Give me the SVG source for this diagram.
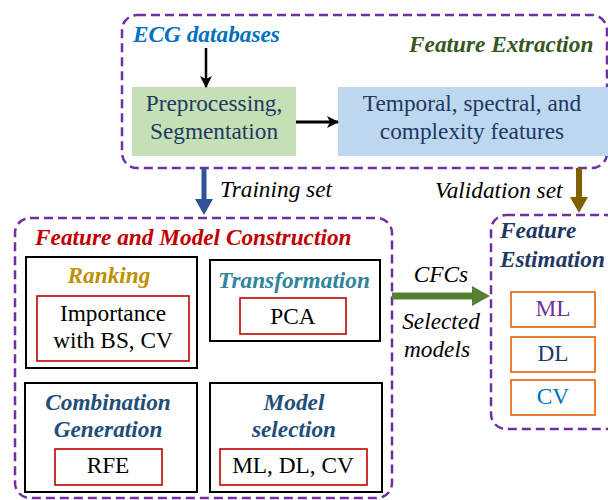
<svg xmlns="http://www.w3.org/2000/svg" width="608" height="500" viewBox="0 0 608 500">
<style>
.dash{fill:none;stroke:#7030a0;stroke-width:2.5;stroke-dasharray:9 5}
text{font-family:'Liberation Serif','Times New Roman',serif;font-size:23.3px}
.bi{font-weight:bold;font-style:italic}
.i{font-style:italic}
.blk{fill:none;stroke:#000;stroke-width:2}
.red{fill:#fff;stroke:#c00000;stroke-width:1.6}
.org{fill:#fff;stroke:#ed7d31;stroke-width:2}
.m{text-anchor:middle}
</style>
<defs>
<marker id="ah" markerWidth="12" markerHeight="12" refX="11" refY="6" orient="auto" markerUnits="userSpaceOnUse">
<path d="M0,0 L12,6 L0,12 L3,6 Z" fill="#000"/>
</marker>
</defs>
<rect width="608" height="500" fill="#fff"/>

<g id="feature-extraction">
<rect class="dash" x="122" y="15" width="485" height="153" rx="15"/>
<text class="bi" x="133" y="42" fill="#0070c0">ECG databases</text>
<text class="bi" x="409" y="52" fill="#375623">Feature Extraction</text>
</g>
<g id="preprocessing">
<rect x="132" y="87" width="164" height="69" fill="#c5e0b4"/>
<text class="m" x="214" y="111" fill="#1f3864">Preprocessing,</text>
<text class="m" x="214" y="139" fill="#1f3864">Segmentation</text>
</g>
<g id="features">
<rect x="338" y="87" width="270" height="69" fill="#bdd7ee"/>
<text class="m" x="472" y="111" fill="#1f3864">Temporal, spectral, and</text>
<text class="m" x="472" y="139" fill="#1f3864">complexity features</text>
</g>

<g id="construction">
<rect class="dash" x="15" y="218" width="377" height="280" rx="15"/>
<text class="bi" x="35" y="245" fill="#c00000">Feature and Model Construction</text>
</g>
<g id="ranking">
<rect class="blk" x="26" y="257" width="171" height="111"/>
<text class="bi m" x="109" y="283" fill="#bf9000">Ranking</text>
<rect class="red" x="37" y="296" width="152" height="65"/>
<text class="m" x="113" y="321">Importance</text>
<text class="m" x="113" y="348">with BS, CV</text>
</g>
<g id="transformation">
<rect class="blk" x="210" y="260" width="170" height="81"/>
<text class="bi m" x="294" y="288" fill="#31849b">Transformation</text>
<rect class="red" x="240" y="298" width="106" height="36"/>
<text class="m" x="293" y="324">PCA</text>
</g>
<g id="combination">
<rect class="blk" x="25" y="383" width="172" height="109"/>
<text class="bi m" x="108" y="410" fill="#1f4e79">Combination</text>
<text class="bi m" x="108" y="437" fill="#1f4e79">Generation</text>
<rect class="red" x="55" y="449" width="107" height="36"/>
<text class="m" x="108" y="473">RFE</text>
</g>
<g id="model-selection">
<rect class="blk" x="210" y="383" width="172" height="109"/>
<text class="bi m" x="294" y="410" fill="#1f4e79">Model</text>
<text class="bi m" x="294" y="437" fill="#1f4e79">selection</text>
<rect class="red" x="220" y="449" width="147" height="36"/>
<text class="m" x="293" y="473">ML, DL, CV</text>
</g>

<g id="estimation">
<rect class="dash" x="491" y="215" width="130" height="214" rx="15"/>
<text class="bi" x="500" y="238" fill="#1f3864">Feature</text>
<text class="bi" x="500" y="267" fill="#1f3864">Estimation</text>
</g>
<g id="ml">
<rect class="org" x="511" y="292" width="84" height="35"/>
<text class="m" x="553" y="316" fill="#7030a0">ML</text>
</g>
<g id="dl">
<rect class="org" x="511" y="337" width="84" height="35"/>
<text class="m" x="553" y="361" fill="#1f3864">DL</text>
</g>
<g id="cv">
<rect class="org" x="511" y="380" width="84" height="35"/>
<text class="m" x="553" y="404" fill="#0070c0">CV</text>
</g>

<g id="connectors">
<line x1="206" y1="48" x2="206" y2="87" stroke="#000" stroke-width="2.5" marker-end="url(#ah)"/>
<line x1="296" y1="122" x2="338" y2="122" stroke="#000" stroke-width="3" marker-end="url(#ah)"/>
<line x1="204" y1="168" x2="204" y2="201" stroke="#2f5597" stroke-width="5"/>
<polygon points="195,199 213,199 204,215" fill="#2f5597"/>
<text class="i" x="220" y="197">Training set</text>
<line x1="579" y1="168" x2="579" y2="199" stroke="#7f6000" stroke-width="6"/>
<polygon points="570,197 588,197 579,213" fill="#7f6000"/>
<text class="i" x="435" y="198">Validation set</text>
<line x1="392" y1="296" x2="475" y2="296" stroke="#548235" stroke-width="7"/>
<polygon points="472,286 490,296 472,306" fill="#548235"/>
<text class="i m" x="441" y="282">CFCs</text>
<text class="i m" x="441" y="329">Selected</text>
<text class="i m" x="437" y="357">models</text>
</g>
</svg>
